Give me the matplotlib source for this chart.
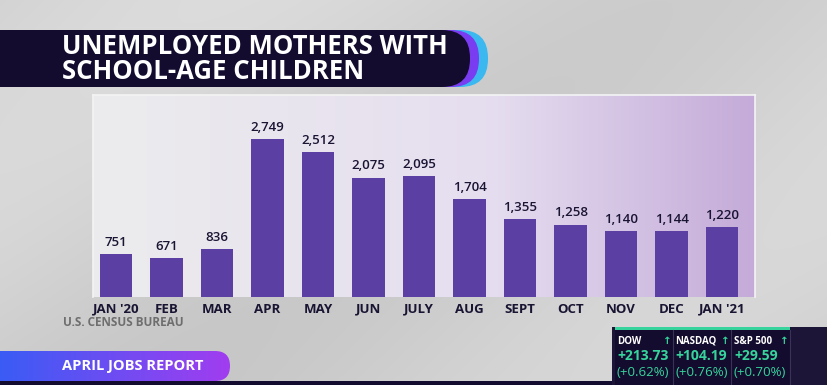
import numpy as np
import matplotlib.pyplot as plt
from matplotlib.patches import FancyBboxPatch, Rectangle

months = ["JAN '20", "FEB", "MAR", "APR", "MAY", "JUN", "JULY", "AUG", "SEPT", "OCT", "NOV", "DEC", "JAN '21"]
mothers = [751, 671, 836, 2749, 2512, 2075, 2095, 1704, 1355, 1258, 1140, 1144, 1220]

title_lines = ["UNEMPLOYED MOTHERS WITH", "SCHOOL-AGE CHILDREN"]
source = "U.S. CENSUS BUREAU"
banner = "APRIL JOBS REPORT"
tick_names = ["DOW", "NASDAQ", "S&P 500"]
tick_pts = ["+213.73", "+104.19", "+29.59"]
tick_pct = ["(+0.62%)", "(+0.76%)", "(+0.70%)"]

plt.rcParams['font.family'] = ['Open Sans', 'DejaVu Sans']

navy = "#140c2e"
bar_col = "#5b3fa3"
green = "#36d49c"

fig = plt.figure(figsize=(8.28, 3.85), dpi=100)

# background layer in pixel coordinates
bg = fig.add_axes([0, 0, 1, 1])
bg.set_xlim(0, 828)
bg.set_ylim(385, 0)
bg.axis("off")
yy, xx = np.mgrid[0:385, 0:828]
shade = 0.81 + 0.03 * np.sin((xx + yy * 1.3) / 140.0) + 0.02 * (1 - yy / 385)
bg.imshow(np.dstack([shade, shade, shade]), extent=(0, 828, 385, 0), aspect="auto", zorder=0)

# title banner
bg.add_patch(FancyBboxPatch((-40, 30), 528, 57, boxstyle="round,pad=0,rounding_size=28",
                            fc="#3bb8f0", ec="none", zorder=1))
bg.add_patch(FancyBboxPatch((-40, 30), 519, 57, boxstyle="round,pad=0,rounding_size=28",
                            fc="#7a3cf0", ec="none", zorder=1.5))
bg.add_patch(FancyBboxPatch((-40, 30), 510, 57, boxstyle="round,pad=0,rounding_size=28",
                            fc=navy, ec="none", zorder=2))
bg.text(62, 59, "\n".join(title_lines), color="white", fontsize=18.5, fontweight="bold",
        va="center", linespacing=0.92, zorder=3)

# source note
bg.text(63, 323, source, color="#6e6e6e", fontsize=8.5, fontweight="bold", va="center")

# bottom banner pill
pill = np.linspace(0, 1, 200)
pill_rgb = np.array([[0.23 + 0.40 * t, 0.36 - 0.12 * t, 0.96 - 0.02 * t] for t in pill])
bg.add_patch(Rectangle((0, 381), 828, 10, fc=navy, ec="none", zorder=1))
clip = FancyBboxPatch((-40, 351), 270, 30, boxstyle="round,pad=0,rounding_size=15",
                      fc="none", ec="none", transform=bg.transData)
bg.add_patch(clip)
im = bg.imshow(pill_rgb[np.newaxis, :, :], extent=(0, 230, 381, 351), aspect="auto", zorder=2)
im.set_clip_path(clip)
bg.text(62, 366, banner, color="white", fontsize=10.5, fontweight="bold", va="center", zorder=3)

# market ticker
bg.add_patch(Rectangle((612, 327), 216, 60, fc="#1c1538", ec="none", zorder=1))
bg.add_patch(Rectangle((615, 327), 175, 60, fc=navy, ec="none", zorder=2))
bg.add_patch(Rectangle((615, 327), 175, 3, fc=green, ec="none", zorder=3))
for i in range(3):
    x0 = 615 + i * 58.5
    bg.plot([x0 + 58, x0 + 58], [330, 385], color="#3a3358", lw=0.8, zorder=3)
    bg.text(x0 + 2, 341, tick_names[i], color="white", fontsize=7, fontweight="bold", va="center", zorder=4)
    bg.text(x0 + 56.5, 341, "\u2191", color=green, fontsize=7.5, fontweight="bold", va="center", ha="right", zorder=4)
    bg.text(x0 + 2, 356, tick_pts[i], color=green, fontsize=10, fontweight="bold", va="center", zorder=4)
    bg.text(x0 + 2, 372, tick_pct[i], color=green, fontsize=9.5, va="center", zorder=4)

# chart panel
ax = fig.add_axes([93 / 828, (385 - 297) / 385, 662 / 828, 202 / 385])
x = np.arange(len(months))
x_lo, x_hi = -0.455, 12.65
y_hi = 3510
ax.set_xlim(x_lo, x_hi)
ax.set_ylim(0, y_hi)
grad = np.linspace(0, 1, 300)
c0 = np.array([0.925, 0.925, 0.93])
c1 = np.array([0.90, 0.87, 0.94])
c2 = np.array([0.77, 0.67, 0.85])
panel = np.array([c0 + (c1 - c0) * (t / 0.6) if t < 0.6 else c1 + (c2 - c1) * ((t - 0.6) / 0.4) for t in grad])
ax.imshow(panel[np.newaxis, :, :], extent=(x_lo, x_hi, 0, y_hi), aspect="auto", zorder=0)

bars = ax.bar(x, mothers, width=0.64, color=bar_col, zorder=2)
for xi, v in zip(x, mothers):
    ax.text(xi, v + 90, f"{v:,}", ha="center", va="bottom", fontsize=9.5,
            fontweight="semibold", color="#1a1433", zorder=3)

ax.set_xticks(x)
ax.set_xticklabels(months, fontsize=9.5, fontweight="bold", color="#1a1433")
ax.tick_params(axis="x", length=0, pad=4)
ax.set_yticks([])
for s in ax.spines.values():
    s.set_color("#f4f4f4")
    s.set_linewidth(1.2)
ax.spines["bottom"].set_visible(False)

plt.savefig("out.png", dpi=100)
plt.close()
